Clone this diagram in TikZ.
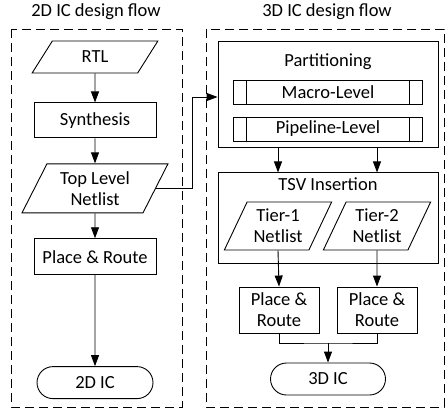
\documentclass[tikz,border=0pt]{standalone}
\usepackage{fontspec}
\setmainfont{Carlito}
\usepackage{tikz}
\usetikzlibrary{shapes.geometric,shapes.misc,arrows.meta,positioning}
\tikzset{box/.style={draw, rectangle, line width=0.9pt, inner sep=0pt, align=center}}
\tikzset{data/.style={draw, trapezium, trapezium left angle=62, trapezium right angle=118, trapezium stretches=true, line width=0.9pt, inner sep=0pt, align=center}}
\tikzset{term/.style={draw, rounded rectangle, line width=0.9pt, inner sep=0pt}}
\tikzset{subbox/.style={box, minimum width=189pt, minimum height=24pt, path picture={
	\draw[line width=0.9pt] ([xshift=13pt]path picture bounding box.north west) -- ([xshift=13pt]path picture bounding box.south west);
	\draw[line width=0.9pt] ([xshift=-13pt]path picture bounding box.north east) -- ([xshift=-13pt]path picture bounding box.south east);}}}
\tikzset{line/.style={draw, line width=0.9pt, -{Triangle[length=11pt,width=8pt]}}}
\tikzset{wire/.style={draw, line width=0.9pt}}
\tikzset{frame/.style={draw, dash pattern=on 9pt off 5pt, line width=0.9pt}}

\begin{document}
\begin{tikzpicture}[x=1pt,y=-1pt,font=\fontsize{18.5pt}{21pt}\selectfont]
				\useasboundingbox (0,0) rectangle (446,412);
				\path [frame] (11,29) rectangle (182,407);
				\path [frame] (206,29) rectangle (444,407);
				\node (t2d) at (96,12)  {2D IC design flow};
				\node (t3d) at (327,12) {3D IC design flow};
				%
				\node [data, minimum width=126pt, minimum height=32pt] at (95,57)              (rtl)   {RTL};
				\node [box, minimum width=122pt, minimum height=35pt, below=29pt of rtl]      (syn)   {Synthesis};
				\node [data, minimum width=146pt, minimum height=49pt, below=25pt of syn]      (tln)   {Top Level\\Netlist};
				\node [box, minimum width=122pt, minimum height=36pt, below=25pt of tln]      (pr)    {Place \& Route};
				\node [term, minimum width=116pt, minimum height=32pt, below=91pt of pr]      (ic2)   {2D IC};
				%
				\node [box, minimum width=220pt, minimum height=106pt] at (328,94)            (part)  {};
				\node at (328,62)                                                             (partt) {Partitioning};
				\node [subbox] at (328,92)                                                    (macro) {Macro-Level};
				\node [subbox] at (328,129)                                                   (pipe)  {Pipeline-Level};
				\node [box, minimum width=220pt, minimum height=91pt, below=25pt of part]     (tsv)   {};
				\node at (328,184)                                                            (tsvt)  {TSV Insertion};
				\node [data, minimum width=108pt, minimum height=48pt] at (278,226)           (tier1) {Tier-1\\Netlist};
				\node [data, minimum width=108pt, minimum height=48pt] at (377,226)           (tier2) {Tier-2\\Netlist};
				\node [box, minimum width=80pt, minimum height=46pt] at (279,310)             (pr1)   {Place \&\\Route};
				\node [box, minimum width=80pt, minimum height=46pt] at (377,310)             (pr2)   {Place \&\\Route};
				\node [term, minimum width=115pt, minimum height=32pt] at (328,379)           (ic3)   {3D IC};
				\coordinate (bend)  at (192,97);
				\coordinate (merge) at (328,343);
				%
				\path [line] (rtl) -- (syn);
				\path [line] (syn) -- (tln);
				\path [line] (tln) -- (pr);
				\path [line] (pr) -- (ic2);
				\path [line] (tln.east) -| (bend) -- (bend -| part.west);
				\path [line] (part.south -| tier1) -- (tsv.north -| tier1);
				\path [line] (part.south -| tier2) -- (tsv.north -| tier2);
				\path [line] (tier1.south) -- (pr1.north);
				\path [line] (tier2.south) -- (pr2.north);
				\path [wire] (pr1.south) |- (merge) -| (pr2.south);
				\path [line] (merge) -- (ic3.north);
				\end{tikzpicture}
\end{document}
